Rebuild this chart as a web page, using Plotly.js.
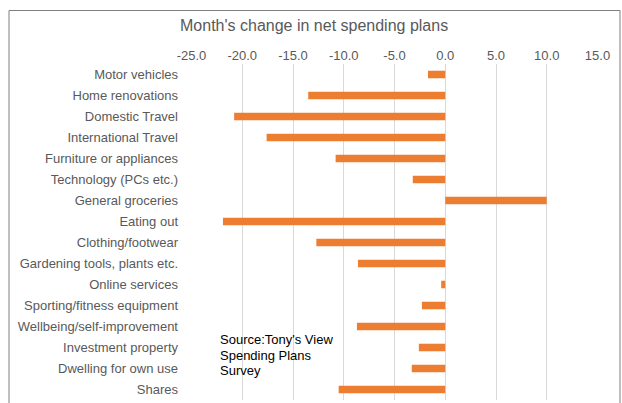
<!DOCTYPE html>
<html>
<head>
<meta charset="utf-8">
<script src="https://cdn.plot.ly/plotly-3.0.1.min.js"></script>
<style>
  body { margin: 0; background: #fff; }
  #chart { width: 622px; height: 403px; }
</style>
</head>
<body>
<div id="chart"></div>
<script>
// categories, top to bottom
const categories = [
    "Motor vehicles",
    "Home renovations",
    "Domestic Travel",
    "International Travel",
    "Furniture or appliances",
    "Technology (PCs etc.)",
    "General groceries",
    "Eating out",
    "Clothing/footwear",
    "Gardening tools, plants etc.",
    "Online services",
    "Sporting/fitness equipment",
    "Wellbeing/self-improvement",
    "Investment property",
    "Dwelling for own use",
    "Shares"
];

// month's change in net spending plans
const changes = [-1.7, -13.5, -20.8, -17.6, -10.8, -3.2, 10.0, -21.9, -12.7, -8.6, -0.4, -2.3, -8.7, -2.6, -3.3, -10.5];

const tickVals = [-25, -20, -15, -10, -5, 0, 5, 10, 15];
const tickText = tickVals.map(v => v.toFixed(1));

// source note, one entry per line
const sourceLines = ["Source:Tony's View", "Spending Plans", "Survey"];

const grey = '#595959';

let data = [{
    type: 'bar',
    orientation: 'h',
    x: changes,
    y: categories,
    marker: {color: '#ED7D31'},
    hoverinfo: 'x+y'
}];

// each source line placed separately so spacing matches (~15.5px)
let notes = sourceLines.map((t, i) => ({
    text: t,
    xref: 'paper', yref: 'paper',
    x: (218 - 191) / 407, y: (400 - (339.5 + i * 15.5)) / 336,
    xanchor: 'left', yanchor: 'middle', align: 'left',
    showarrow: false,
    font: {size: 13, color: '#000'}
}));

let layout = {
    width: 622,
    height: 403,
    margin: {l: 191, r: 24, t: 64, b: 3, pad: 0},
    paper_bgcolor: '#fff',
    plot_bgcolor: '#fff',
    showlegend: false,
    bargap: 0.64,
    font: {family: 'Arial, "Liberation Sans", sans-serif', color: grey},
    title: {
        text: "Month's change in net spending plans",
        font: {size: 16, color: grey},
        x: 0.505, xref: 'container', xanchor: 'center',
        y: 1 - 25 / 403, yref: 'container', yanchor: 'middle'
    },
    xaxis: {
        side: 'top',
        range: [-25.05, 15.05],
        tickvals: tickVals,
        ticktext: tickText,
        ticks: '',
        tickfont: {size: 13, color: grey},
        showgrid: true,
        gridcolor: '#d9d9d9',
        gridwidth: 1,
        zeroline: false,
        showline: false,
        fixedrange: true
    },
    yaxis: {
        type: 'category',
        autorange: 'reversed',
        ticks: '',
        ticklabelstandoff: 12,
        tickfont: {size: 13, color: grey},
        showgrid: false,
        zeroline: false,
        showline: false,
        fixedrange: true
    },
    annotations: notes,
    shapes: [{
        // outer chart frame
        type: 'rect',
        xref: 'paper', yref: 'paper',
        x0: (9 - 191) / 407, x1: (620 - 191) / 407,
        y0: -0.1, y1: (400 - 10.5) / 336,
        line: {color: '#7f7f7f', width: 1},
        fillcolor: 'rgba(0,0,0,0)',
        layer: 'below'
    }]
};

Plotly.newPlot('chart', data, layout, {displayModeBar: false, staticPlot: true});
</script>
</body>
</html>
